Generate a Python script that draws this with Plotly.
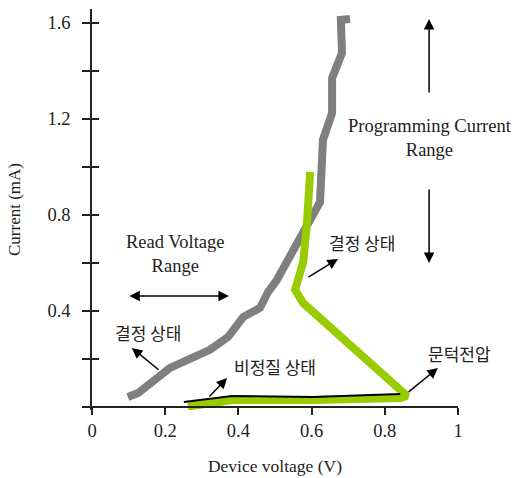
import plotly.graph_objects as go

# Crystalline state (gray)
gray_v = [0.098, 0.126, 0.213, 0.322, 0.372, 0.413, 0.459, 0.481, 0.505, 0.623, 0.631, 0.656, 0.656, 0.683, 0.680, 0.705]
gray_i = [0.042, 0.058, 0.163, 0.238, 0.292, 0.375, 0.413, 0.479, 0.529, 0.854, 1.113, 1.225, 1.371, 1.475, 1.613, 1.617]

# Amorphous -> threshold -> crystalline (green)
green_v = [0.262, 0.385, 0.604, 0.842, 0.861, 0.577, 0.555, 0.577, 0.587, 0.596]
green_i = [0.002, 0.029, 0.029, 0.037, 0.046, 0.433, 0.488, 0.604, 0.758, 0.979]

# Amorphous state (black thin)
black_v = [0.251, 0.383, 0.604, 0.842]
black_i = [0.021, 0.046, 0.042, 0.054]

x_ticks = [0, 0.2, 0.4, 0.6, 0.8, 1]
x_labels = ["0", "0.2", "0.4", "0.6", "0.8", "1"]
y_ticks = [0, 0.2, 0.4, 0.6, 0.8, 1.0, 1.2, 1.4, 1.6]
y_labels = ["", "", "0.4", "", "0.8", "", "1.2", "", "1.6"]

Y_MIN, Y_MAX = -0.0125, 1.6583
LATIN = "Liberation Serif"
KOR = "Noto Sans CJK KR"
AX = "#222222"
TXT = "#222222"

fig = go.Figure()
fig.add_trace(go.Scatter(x=gray_v, y=gray_i, mode="lines",
                         line=dict(color="#7f7f7f", width=8), showlegend=False))
fig.add_trace(go.Scatter(x=green_v, y=green_i, mode="lines",
                         line=dict(color="#99cc00", width=8), showlegend=False))
fig.add_trace(go.Scatter(x=black_v, y=black_i, mode="lines",
                         line=dict(color="#000000", width=2), showlegend=False))
# helper trace to realise inner half of crossing y ticks
fig.add_trace(go.Scatter(x=[None], y=[None], yaxis="y2", showlegend=False, hoverinfo="skip"))

fig.update_layout(
    width=515, height=478,
    margin=dict(l=92, r=57, t=9, b=68),
    paper_bgcolor="white", plot_bgcolor="white",
    font=dict(family=LATIN, size=18.5, color=TXT),
    xaxis=dict(range=[0, 1], tickvals=x_ticks, ticktext=x_labels,
               showgrid=False, zeroline=False, showline=True, linecolor=AX, linewidth=1.5,
               ticks="outside", ticklen=7, tickwidth=1.5, tickcolor=AX,
               anchor="free", position=(0 - Y_MIN) / (Y_MAX - Y_MIN),
               automargin=False,
               title=dict(text="Device voltage (V)", font=dict(family=LATIN, size=17.5), standoff=19)),
    yaxis=dict(range=[Y_MIN, Y_MAX], tickvals=y_ticks, ticktext=y_labels,
               showgrid=False, zeroline=False, showline=True, linecolor=AX, linewidth=1.5,
               ticks="outside", ticklen=8, tickwidth=1.5, tickcolor=AX,
               ticklabelstandoff=8, automargin=False,
               title=dict(text="Current (mA)", font=dict(family=LATIN, size=17), standoff=22)),
    yaxis2=dict(range=[Y_MIN, Y_MAX], tickvals=y_ticks, overlaying="y", side="left", anchor="x",
                showgrid=False, zeroline=False, showline=False, showticklabels=False,
                ticks="inside", ticklen=7, tickwidth=1.5, tickcolor=AX, automargin=False),
)

def arrow(x0, y0, x1, y1, both=False):
    fig.add_annotation(x=x1, y=y1, ax=x0, ay=y0, xref="x", yref="y", axref="x", ayref="y",
                       text="", showarrow=True, arrowhead=2, arrowsize=1.4, arrowwidth=1.5,
                       arrowcolor="#000000", arrowside="end+start" if both else "end",
                       startarrowhead=2, startarrowsize=1.4)

def label(x, y, text, family, size, xref="x"):
    fig.add_annotation(x=x, y=y, xref=xref, yref="y", text=text, showarrow=False,
                       xanchor="center", yanchor="middle",
                       font=dict(family=family, size=size, color=TXT), align="center")

arrow(0.098, 0.4625, 0.374, 0.4625, both=True)
arrow(0.186, 0.150, 0.109, 0.246)
arrow(0.317, 0.0375, 0.369, 0.121)
arrow(0.587, 0.5375, 0.672, 0.617)
arrow(0.861, 0.058, 0.945, 0.1625)
arrow(0.921, 1.304, 0.921, 1.617)
arrow(0.921, 0.9125, 0.921, 0.600)

label(0.227, 0.6375, "Read Voltage<br>Range", LATIN, 18.5)
label(0.923, 1.121, "Programming Current<br>Range", LATIN, 18.5)
label(0.153, 0.312, "결정 상태", KOR, 17)
label(0.500, 0.167, "비정질 상태", KOR, 17)
label(0.738, 0.6875, "결정 상태", KOR, 17)
label(1.003, 0.221, "문턱전압", KOR, 17, xref="paper")

fig.write_html("out.html", config={"displayModeBar": False},
               post_script="document.body.style.margin='0';")
